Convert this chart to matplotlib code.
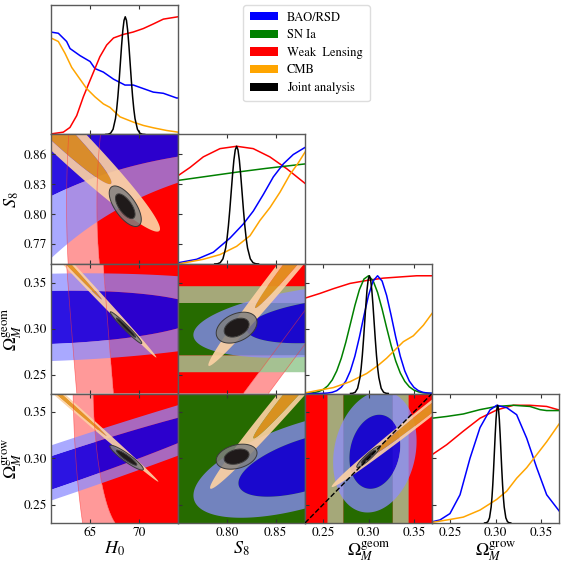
import numpy as np
import matplotlib
matplotlib.use('Agg')
import matplotlib.pyplot as plt
from matplotlib.patches import Patch

plt.rcParams['font.family'] = ['STIXGeneral', 'DejaVu Serif']
plt.rcParams['mathtext.fontset'] = 'stix'

# ---------------- axes / variables ----------------
var_labels = [r'$H_0$', r'$S_8$', r'$\Omega_M^{\rm geom}$', r'$\Omega_M^{\rm grow}$']
var_ranges = [(61.0, 74.0), (0.75, 0.88), (0.23, 0.37), (0.23, 0.37)]
x_ticks = [[65, 70], [0.80, 0.85], [0.25, 0.30, 0.35], [0.25, 0.30, 0.35]]
x_ticklabels = [['65', '70'], ['0.80', '0.85'], ['0.25', '0.30', '0.35'], ['0.25', '0.30', '0.35']]
y_ticks = [[], [0.77, 0.80, 0.83, 0.86], [0.25, 0.30, 0.35], [0.25, 0.30, 0.35]]
y_ticklabels = [[], ['0.77', '0.80', '0.83', '0.86'], ['0.25', '0.30', '0.35'], ['0.25', '0.30', '0.35']]

datasets = ['BAO/RSD', 'SN Ia', 'Weak  Lensing', 'CMB', 'Joint analysis']

# ---------------- 1D marginals ----------------
# H0
h0_x_bao = [61.0, 61.75, 62.6, 62.95, 63.97, 65.0, 65.5, 66.36, 67.4, 68.57, 69.43, 70.45, 71.47, 72.5, 73.86, 74.0]
h0_bao = [0.87, 0.86, 0.79, 0.73, 0.67, 0.62, 0.56, 0.53, 0.47, 0.42, 0.42, 0.39, 0.36, 0.35, 0.31, 0.31]
h0_x_wl = [61.0, 62.26, 62.94, 63.63, 64.31, 65.0, 65.5, 66.0, 66.7, 67.4, 68.4, 69.4, 70.45, 71.5, 72.5, 74.0]
h0_wl = [0.005, 0.02, 0.06, 0.16, 0.32, 0.46, 0.56, 0.66, 0.76, 0.82, 0.85, 0.87, 0.90, 0.94, 0.98, 1.0]
h0_x_cmb = [61.0, 61.75, 62.43, 63.12, 63.97, 64.65, 65.5, 66.36, 67.04, 68.06, 69.43, 70.45, 71.47, 72.84, 74.0]
h0_cmb = [0.82, 0.79, 0.69, 0.57, 0.47, 0.39, 0.32, 0.26, 0.23, 0.15, 0.105, 0.077, 0.057, 0.034, 0.02]
joint_profile = [0.0003, 0.0022, 0.0111, 0.0439, 0.1353, 0.2163, 0.3247, 0.4578, 0.6065, 0.7548, 0.8825,
                 0.9692, 1.0, 0.9692, 0.8825, 0.7548, 0.6065, 0.4578, 0.3247, 0.2163, 0.1353, 0.0439,
                 0.0111, 0.0022, 0.0003]
h0_x_joint = [66.6, 66.85, 67.1, 67.35, 67.6, 67.725, 67.85, 67.975, 68.1, 68.225, 68.35, 68.475, 68.6,
              68.725, 68.85, 68.975, 69.1, 69.225, 69.35, 69.475, 69.6, 69.85, 70.1, 70.35, 70.6]

# S8
s8_x_wl = [0.75, 0.7623, 0.7759, 0.793, 0.81, 0.827, 0.844, 0.8612, 0.88]
s8_wl = [0.75, 0.82, 0.91, 0.98, 1.0, 0.98, 0.91, 0.81, 0.685]
s8_x_sn = [0.75, 0.78, 0.81, 0.84, 0.88]
s8_sn = [0.71, 0.745, 0.78, 0.812, 0.85]
s8_x_bao = [0.75, 0.7691, 0.7862, 0.8032, 0.8169, 0.8271, 0.8373, 0.8476, 0.8578, 0.868, 0.88]
s8_bao = [0.01, 0.04, 0.10, 0.22, 0.34, 0.45, 0.59, 0.74, 0.85, 0.93, 0.99]
s8_x_cmb = [0.75, 0.7759, 0.793, 0.81, 0.8237, 0.8339, 0.8442, 0.8544, 0.8646, 0.8732, 0.88]
s8_cmb = [0.0, 0.04, 0.08, 0.15, 0.24, 0.37, 0.48, 0.61, 0.76, 0.86, 0.95]
s8_x_joint = [0.7876, 0.7904, 0.7932, 0.796, 0.7988, 0.8002, 0.8016, 0.803, 0.8044, 0.8058, 0.8072, 0.8086,
              0.81, 0.8114, 0.8128, 0.8142, 0.8156, 0.817, 0.8184, 0.8198, 0.8212, 0.824, 0.8268, 0.8296, 0.8324]

# Omega_M geom
om_grid = [0.230, 0.235, 0.240, 0.245, 0.250, 0.255, 0.260, 0.265, 0.270, 0.275, 0.280, 0.285, 0.290, 0.295,
           0.300, 0.305, 0.310, 0.315, 0.320, 0.325, 0.330, 0.335, 0.340, 0.345, 0.350, 0.355, 0.360, 0.365, 0.370]
omg_sn = [0.0012, 0.0031, 0.0074, 0.0164, 0.0336, 0.0644, 0.1152, 0.1922, 0.2994, 0.4356, 0.5907, 0.7475,
          0.8825, 0.9723, 0.9997, 0.9591, 0.8584, 0.7170, 0.5584, 0.4063, 0.2759, 0.1746, 0.1031, 0.0567,
          0.0292, 0.0140, 0.0063, 0.0026, 0.0010]
omg_bao = [0.0, 0.0, 0.0001, 0.0004, 0.0014, 0.0039, 0.0101, 0.0242, 0.0530, 0.1054, 0.1915, 0.3173, 0.4797,
           0.6617, 0.8322, 0.9551, 1.0, 0.9551, 0.8322, 0.6617, 0.4797, 0.3173, 0.1915, 0.1054, 0.0530,
           0.0242, 0.0101, 0.0039, 0.0014]
omg_x_wl = [0.23, 0.2465, 0.2612, 0.2796, 0.298, 0.3164, 0.3347, 0.3531, 0.37]
omg_wl = [0.81, 0.85, 0.89, 0.935, 0.96, 0.98, 0.99, 1.0, 1.0]
omg_x_cmb = [0.23, 0.2465, 0.2612, 0.2796, 0.298, 0.3108, 0.32, 0.3292, 0.3384, 0.3494, 0.3605, 0.37]
omg_cmb = [0.005, 0.03, 0.05, 0.10, 0.17, 0.24, 0.30, 0.37, 0.44, 0.49, 0.58, 0.68]
omg_x_joint = [0.2802, 0.2828, 0.2854, 0.288, 0.2906, 0.2919, 0.2932, 0.2945, 0.2958, 0.2971, 0.2984, 0.2997,
               0.301, 0.3023, 0.3036, 0.3049, 0.3062, 0.3075, 0.3088, 0.3101, 0.3114, 0.314, 0.3166, 0.3192, 0.3218]

# Omega_M grow
omw_x_wl = [0.23, 0.2462, 0.2645, 0.2829, 0.3013, 0.3197, 0.338, 0.3564, 0.37]
omw_wl = [0.58, 0.665, 0.78, 0.89, 0.96, 1.0, 1.0, 0.99, 0.96]
omw_x_sn = [0.23, 0.2462, 0.2645, 0.2829, 0.3013, 0.3197, 0.338, 0.349, 0.3564, 0.37]
omw_sn = [0.89, 0.905, 0.926, 0.963, 0.99, 1.0, 0.99, 0.963, 0.955, 0.955]
omw_x_bao = [0.23, 0.2388, 0.2498, 0.2609, 0.2719, 0.2829, 0.2939, 0.3013, 0.3123, 0.3233, 0.3344, 0.3454, 0.3564, 0.3704]
omw_bao = [0.01, 0.026, 0.08, 0.24, 0.55, 0.81, 0.96, 1.0, 0.98, 0.92, 0.72, 0.47, 0.24, 0.10]
omw_x_cmb = [0.23, 0.2498, 0.2645, 0.2829, 0.3013, 0.3123, 0.3233, 0.3344, 0.3454, 0.3564, 0.37]
omw_cmb = [0.005, 0.03, 0.05, 0.11, 0.20, 0.27, 0.38, 0.47, 0.58, 0.69, 0.84]
omw_x_joint = [0.288, 0.2898, 0.2916, 0.2934, 0.2952, 0.2961, 0.297, 0.2979, 0.2988, 0.2997, 0.3006, 0.3015,
               0.3024, 0.3033, 0.3042, 0.3051, 0.306, 0.3069, 0.3078, 0.3087, 0.3096, 0.3114, 0.3132, 0.315, 0.3168]

# ---------------- 2D contours: Gaussian-like summaries ----------------
# [centre_x, centre_y, width_x, width_y, slope, sheared axis, one-sided flag, width fan-out]
h0_s8_wl = [70.55, 0.81, 3.2, 0.12, 0.0, 'x', -1, 0.0]
h0_s8_bao = [67.5, 0.906, 30.0, 0.0414, -0.00123, 'y', 0, -0.0669]
h0_s8_cmb = [59.43, 0.9047, 5.12, 0.0105, -0.00938, 'y', 0, 0.0]
h0_s8_joint = [68.6, 0.808, 0.66, 0.0062, -0.0081, 'y', 0, 0.0]

h0_omg_wl = [72.72, 0.30, 3.87, 0.5, -7.5, 'x', -1, 0.0]
h0_omg_bao = [60.0, 0.312, 11.0, 0.019, 0.0003, 'y', 0, 0.0]
h0_omg_cmb = [57.42, 0.43, 5.78, 0.0029, -0.0112, 'y', 0, 0.0]
h0_omg_joint = [68.68, 0.3012, 0.65, 0.00153, -0.01035, 'y', 0, 0.0]

h0_omw_wl = [68.47, 0.39, 2.1, 0.11, 0.0, 'x', -1, 0.0]
h0_omw_bao = [60.0, 0.2805, 14.0, 0.012, 0.00354, 'y', 0, 0.0]
h0_omw_cmb = [58.42, 0.401, 5.46, 0.0023, -0.0093, 'y', 0, 0.0]
h0_omw_joint = [68.74, 0.3006, 0.69, 0.0021, -0.0072, 'y', 0, 0.0]

s8_omg_wl = [0.826, 0.30, 0.0264, 0.5, 0.7, 'x', 1, 0.0]
s8_omg_sn = [0.81, 0.2995, 10.0, 0.0187, 0.0, 'y', 0, 0.0]
s8_omg_bao = [0.9057, 0.309, 0.0563, 0.015, 0.112, 'y', 0, 0.0]
s8_omg_cmb = [0.9036, 0.4202, 0.0493, 0.0075, 1.3, 'y', 0, 0.0]
s8_omg_joint = [0.81, 0.3012, 0.0084, 0.0063, 0.28, 'y', 0, 0.0]

s8_omw_wl = [0.81, 0.30, 1.0, 1.0, 0.0, 'y', 0, 0.0]
s8_omw_sn = [0.81, 0.30, 1.0, 1.0, 0.0, 'y', 0, 0.0]
s8_omw_bao = [0.8839, 0.294, 0.0475, 0.019, 0.29, 'y', 0, 0.0]
s8_omw_cmb = [0.8964, 0.4068, 0.0457, 0.0074, 1.22, 'y', 0, 0.0]
s8_omw_joint = [0.81, 0.3017, 0.0084, 0.0052, 0.19, 'y', 0, 0.0]

omg_omw_wl = [0.30, 0.30, 1.0, 1.0, 0.0, 'y', 0, 0.0]
omg_omw_sn = [0.2995, 0.30, 0.018, 1.0, 0.0, 'x', 0, 0.0]
omg_omw_bao = [0.307, 0.307, 0.0185, 0.026, 0.25, 'y', 0, 0.0]
omg_omw_cmb = [0.3725, 0.3564, 0.0455, 0.0036, 0.77, 'y', 0, 0.0]
omg_omw_joint = [0.30, 0.3017, 0.0052, 0.0017, 0.84, 'y', 0, 0.0]

identity_line = [0.23, 0.37]

# ---------------- styles ----------------
line_colors = {'bao': 'blue', 'sn': 'green', 'wl': 'red', 'cmb': 'orange', 'joint': 'black'}
fill_colors = {
    'wl': [(1.0, 0.0, 0.0, 1.0), (1.0, 0.6, 0.6, 1.0)],
    'sn': [(0.15, 0.42, 0.0, 1.0), (0.58, 0.79, 0.57, 0.84)],
    'bao': [(0.1, 0.0, 0.88, 0.92), (0.55, 0.55, 1.0, 0.75)],
    'cmb': [(0.89, 0.58, 0.13, 0.95), (0.99, 0.82, 0.64, 0.92)],
    'joint': [(0.12, 0.1, 0.1, 1.0), (0.5, 0.5, 0.5, 0.85)],
}
LEVELS = [-1.0, 2.30, 6.18]


def chi2(X, Y, spec):
    mx, my, sx, sy, k, mode, side, fan = spec
    if mode == 'y':
        u = (X - mx) / sx
        v = (Y - my - k * (X - mx)) / (sy * np.exp(fan * (X - mx)))
        if side < 0:
            v = np.minimum(v, 0)
        elif side > 0:
            v = np.maximum(v, 0)
        return u ** 2 + v ** 2
    v = (Y - my) / sy
    u = (X - mx - k * (Y - my)) / (sx * np.exp(fan * (Y - my)))
    if side < 0:
        u = np.minimum(u, 0)
    elif side > 0:
        u = np.maximum(u, 0)
    return u ** 2 + v ** 2


fig = plt.figure(figsize=(5.64, 5.66), dpi=100)
L, R, B, T = 51 / 564, 559 / 564, 1 - 523 / 566, 1 - 5 / 566
w = (R - L) / 4
h = (T - B) / 4

panels_2d = {
    (1, 0): [('wl', h0_s8_wl), ('bao', h0_s8_bao), ('cmb', h0_s8_cmb), ('joint', h0_s8_joint)],
    (2, 0): [('wl', h0_omg_wl), ('bao', h0_omg_bao), ('cmb', h0_omg_cmb), ('joint', h0_omg_joint)],
    (3, 0): [('wl', h0_omw_wl), ('bao', h0_omw_bao), ('cmb', h0_omw_cmb), ('joint', h0_omw_joint)],
    (2, 1): [('wl', s8_omg_wl), ('sn', s8_omg_sn), ('bao', s8_omg_bao), ('cmb', s8_omg_cmb), ('joint', s8_omg_joint)],
    (3, 1): [('wl', s8_omw_wl), ('sn', s8_omw_sn), ('bao', s8_omw_bao), ('cmb', s8_omw_cmb), ('joint', s8_omw_joint)],
    (3, 2): [('wl', omg_omw_wl), ('sn', omg_omw_sn), ('bao', omg_omw_bao), ('cmb', omg_omw_cmb), ('joint', omg_omw_joint)],
}

panels_1d = {
    0: [('bao', h0_x_bao, h0_bao), ('wl', h0_x_wl, h0_wl), ('cmb', h0_x_cmb, h0_cmb), ('joint', h0_x_joint, joint_profile)],
    1: [('wl', s8_x_wl, s8_wl), ('sn', s8_x_sn, s8_sn), ('bao', s8_x_bao, s8_bao), ('cmb', s8_x_cmb, s8_cmb),
        ('joint', s8_x_joint, joint_profile)],
    2: [('wl', omg_x_wl, omg_wl), ('sn', om_grid, omg_sn), ('bao', om_grid, omg_bao), ('cmb', omg_x_cmb, omg_cmb),
        ('joint', omg_x_joint, joint_profile)],
    3: [('wl', omw_x_wl, omw_wl), ('sn', omw_x_sn, omw_sn), ('bao', omw_x_bao, omw_bao), ('cmb', omw_x_cmb, omw_cmb),
        ('joint', omw_x_joint, joint_profile)],
}

spine_color = '#5a5a5a'
tick_kw = dict(direction='in', length=3, width=0.8, color='#333333')
ylabel_x = [None, -0.235, -0.215, -0.215]

for i in range(4):
    for j in range(i + 1):
        ax = fig.add_axes([L + j * w, T - (i + 1) * h, w, h])
        ax.set_xlim(*var_ranges[j])
        for s in ax.spines.values():
            s.set_color(spine_color)
            s.set_linewidth(1.0)
        if i == j:
            ax.set_ylim(0, 1.1)
            for key, xs, ys in panels_1d[i]:
                ax.plot(xs, ys, color=line_colors[key], lw=1.1, zorder=3 if key == 'joint' else 2)
            ax.set_yticks([])
            ax.set_xticks(x_ticks[j])
            ax.tick_params(axis='x', top=True, **tick_kw)
            if i > 0:
                # row-variable ticks on the left edge of the diagonal panel
                axt = ax.twinx()
                axt.set_ylim(*var_ranges[i])
                axt.yaxis.tick_left()
                axt.set_yticks(y_ticks[i])
                axt.set_yticklabels([])
                axt.tick_params(axis='y', **tick_kw)
                for s in axt.spines.values():
                    s.set_visible(False)
        else:
            ax.set_ylim(*var_ranges[i])
            xs = np.linspace(*var_ranges[j], 700)
            ys = np.linspace(*var_ranges[i], 700)
            X, Y = np.meshgrid(xs, ys)
            for key, spec in panels_2d[(i, j)]:
                C = chi2(X, Y, spec)
                ax.contourf(X, Y, C, levels=LEVELS, colors=fill_colors[key], antialiased=True, zorder=1)
            for key, spec in panels_2d[(i, j)]:
                C = chi2(X, Y, spec)
                if key == 'wl':
                    ax.contour(X, Y, C, levels=[2.30, 6.18], colors=[(1, 0.2, 0.2, 0.6)], linewidths=0.5, zorder=2)
                if key == 'joint':
                    ax.contour(X, Y, C, levels=[2.30, 6.18], colors=['#3a3a3a'], linewidths=0.7, zorder=3)
            if (i, j) == (3, 2):
                ax.plot(identity_line, identity_line, color='black', ls='--', lw=1.0, zorder=4)
            ax.set_xticks(x_ticks[j])
            ax.set_yticks(y_ticks[i])
            ax.tick_params(top=True, right=False, **tick_kw)
        ax.tick_params(labelsize=9.5, pad=3)
        if i == 3:
            ax.set_xticklabels(x_ticklabels[j])
            ax.set_xlabel(var_labels[j], fontsize=13, va='top')
            ax.xaxis.set_label_coords(0.5, -0.125)
        else:
            ax.set_xticklabels([])
        if j == 0 and i > 0:
            ax.set_yticklabels(y_ticklabels[i])
            ax.set_ylabel(var_labels[i], fontsize=13)
            ax.yaxis.set_label_coords(ylabel_x[i], 0.5)
        elif i != j:
            ax.set_yticklabels([])

handles = [Patch(facecolor=c, edgecolor='none') for c in ['blue', 'green', 'red', 'orange', 'black']]
leg = fig.legend(handles, datasets, loc='upper left', bbox_to_anchor=(243 / 564, 1 - 5 / 566),
                 borderaxespad=0, fontsize=9, handlelength=2.25, handleheight=0.65, labelspacing=0.46,
                 handletextpad=0.72, borderpad=0.55, frameon=True, fancybox=True, framealpha=1)
leg.get_frame().set_edgecolor('#dddddd')

fig.savefig('out.png', dpi=100)
